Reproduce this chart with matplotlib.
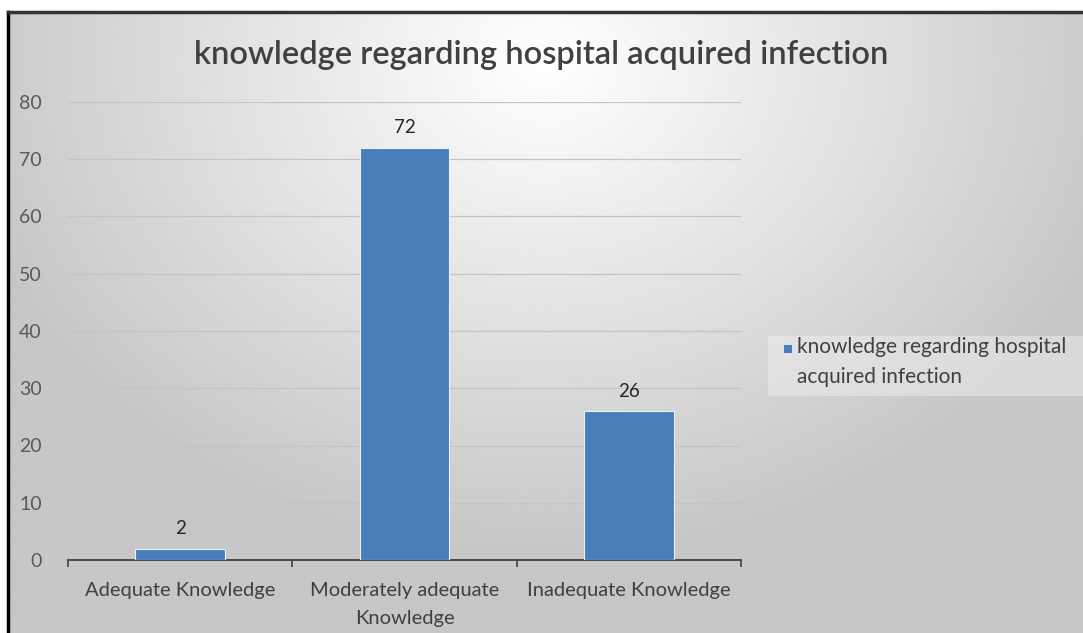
import numpy as np
import matplotlib
matplotlib.use("Agg")
import matplotlib.pyplot as plt
from matplotlib.patches import Rectangle

categories = ["Adequate Knowledge", "Moderately adequate\nKnowledge", "Inadequate Knowledge"]
values = [2, 72, 26]
series_name = "knowledge regarding hospital\nacquired infection"
title = "knowledge regarding hospital acquired infection"
yticks = [0, 10, 20, 30, 40, 50, 60, 70, 80]

W, H = 1083, 633
fig = plt.figure(figsize=(W / 100, H / 100), dpi=100)
fig.patch.set_facecolor("white")
plt.rcParams["font.family"] = ["Lato", "DejaVu Sans"]

# ── radial gradient background inside the border ──────────────
bg = fig.add_axes([8 / W, 0, 1 - 8 / W, 1 - 12 / H])
bg.set_axis_off()
yy, xx = np.mgrid[0:1:300j, 0:1:500j]
r = np.sqrt(((xx - 0.5) / 0.7) ** 2 + ((yy - 0.08) / 1.0) ** 2)
shade = np.clip(1.0 - 0.28 * r, 0.78, 1.0)
bg.imshow(shade, cmap="gray", vmin=0, vmax=1, aspect="auto",
          extent=[0, 1, 1, 0], interpolation="bilinear")
bg.set_xlim(0, 1)
bg.set_ylim(1, 0)
# border: left and top edges
bg.plot([0, 0], [0, 1], color="black", lw=2.5, transform=bg.transAxes, clip_on=False)
bg.plot([0, 1], [1, 1], color="#333333", lw=2.5, transform=bg.transAxes, clip_on=False)

# ── main chart ────────────────────────────────────────────────
ax = fig.add_axes([68 / W, 1 - 560 / H, (741 - 68) / W, (560 - 102) / H])
ax.patch.set_alpha(0)
x = np.arange(len(categories))
bars = ax.bar(x, values, width=0.40, color="#4a7ebb", edgecolor="#e8f0fa",
              linewidth=0.8, zorder=3)
for b, v in zip(bars, values):
    ax.text(b.get_x() + b.get_width() / 2, v + 2.0, str(v), ha="center",
            va="bottom", fontsize=13.5, color="#262626")

ax.set_xlim(-0.5, len(categories) - 0.5)
ax.set_ylim(0, 80)
ax.set_yticks(yticks)
ax.set_yticklabels([str(t) for t in yticks], fontsize=14, color="#595959")
ax.set_xticks(x)
ax.set_xticklabels(categories, fontsize=14.5, color="#404040", linespacing=1.75)
ax.set_xticks(np.arange(len(categories) + 1) - 0.5, minor=True)
ax.tick_params(axis="x", which="major", length=0, pad=16)
ax.tick_params(axis="x", which="minor", length=5, width=1.2, color="#404040")
ax.tick_params(axis="y", length=0, pad=19)
ax.grid(axis="y", color="#c4c4c4", lw=0.9, zorder=0)
for s in ["top", "right", "left"]:
    ax.spines[s].set_visible(False)
ax.spines["bottom"].set_color("#404040")
ax.spines["bottom"].set_linewidth(1.3)

fig.text(0.5, 1 - 55 / H, title, ha="center", va="center", fontsize=23.5,
         fontweight="semibold", color="#404040")

# ── legend ────────────────────────────────────────────────────
leg_bg = Rectangle((768 / W, 1 - 396 / H), (1083 - 768) / W, 60 / H,
                   transform=fig.transFigure, facecolor="#eeeeee",
                   edgecolor="none", alpha=0.5)
fig.patches.append(leg_bg)
fig.patches.append(Rectangle((784 / W, 1 - 353 / H), 8 / W, 8 / H,
                             transform=fig.transFigure, facecolor="#4a7ebb",
                             edgecolor="none"))
fig.text(797 / W, 1 - 337 / H, series_name, ha="left", va="top",
         fontsize=15, color="#404040", linespacing=1.6)

fig.savefig("out.png", dpi=100, facecolor="white")
